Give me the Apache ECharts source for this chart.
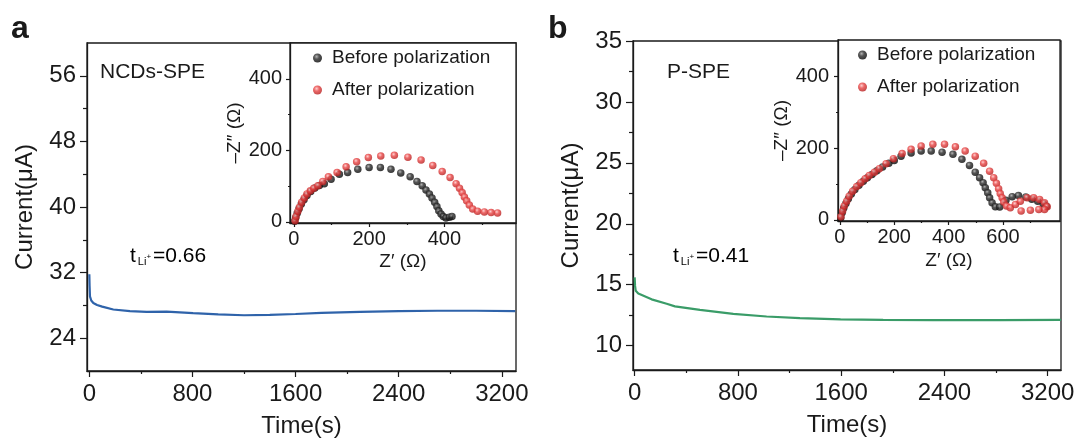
<!DOCTYPE html>
<html>
<head>
<meta charset="utf-8">
<script src="https://cdn.jsdelivr.net/npm/echarts@6/dist/echarts.min.js"></script>
<style>
html, body { margin: 0; background: #fff; }
#chart { width: 1080px; height: 443px; }
</style>
</head>
<body>
<div id="chart"></div>
<script>
// ---- data ----
// panel a: NCDs-SPE chronoamperometry
const timeA = [0, 2, 5, 15, 31, 60, 100, 186, 315, 445, 600, 805, 1000, 1200, 1400, 1600, 1800, 2100, 2400, 2700, 3000, 3304];
const currA = [31.8, 30.4, 29.1, 28.6, 28.3, 28.05, 27.85, 27.5, 27.3, 27.2, 27.25, 27.05, 26.9, 26.8, 26.85, 26.95, 27.1, 27.2, 27.3, 27.35, 27.35, 27.3];
// panel b: P-SPE chronoamperometry
const timeB = [0, 3, 8, 28, 131, 248, 312, 506, 764, 1022, 1280, 1595, 1925, 2312, 2828, 3303];
const currB = [15.6, 14.9, 14.5, 14.27, 13.8, 13.44, 13.22, 12.94, 12.61, 12.39, 12.25, 12.15, 12.12, 12.09, 12.09, 12.12];

// insets: Nyquist plots (Z', -Z'')
const aBeforeX = [2, 5, 9, 14, 20, 27, 35, 45, 56, 68, 81, 99, 121, 143, 170, 200, 230, 258, 284, 309, 327, 341, 351, 360, 367, 374, 380, 385, 391, 397, 404, 413, 420];
const aBeforeY = [2, 12, 24, 37, 50, 62, 74, 85, 95, 102, 107, 119, 133, 138, 147, 152, 152, 147, 137, 126, 113, 101, 89, 78, 67, 55, 43, 31, 22, 15, 11, 13, 15];
const aAfterX = [3.5, 6, 11, 15, 21, 28, 35, 44, 53, 64, 77, 92, 115, 139, 167, 198, 231, 267, 303, 338, 369, 394, 415, 431, 440, 447, 453, 459, 466, 475, 488, 506, 524, 541];
const aAfterY = [3.6, 15, 30, 41, 55, 67, 78, 87, 94, 101, 113, 126, 138, 154, 168, 180, 184, 186, 181, 173, 158, 141, 124, 107, 94, 82, 70, 59, 47, 36, 30, 28, 26, 25];
const bBeforeX = [3, 8, 14, 22, 31, 42, 55, 70, 86, 101, 118, 136, 157, 180, 200, 225, 262, 299, 336, 376, 416, 449, 477, 498, 514, 527, 535, 544, 551, 560, 572, 588, 611, 634, 657, 684, 706, 728, 748, 760];
const bBeforeY = [6, 20, 33, 46, 59, 72, 85, 97, 108, 118, 127, 137, 148, 158, 166, 178, 187, 192, 192, 189, 183, 169, 152, 133, 118, 104, 90, 76, 62, 48, 37, 36, 55, 65, 68, 64, 58, 52, 45, 38];
const bAfterX = [3.7, 10, 16, 25, 34, 47, 62, 77, 93, 108, 127, 145, 170, 197, 229, 262, 299, 342, 385, 425, 461, 498, 529, 551, 566, 576, 584, 590, 597, 603, 613, 627, 646, 664, 689, 713, 735, 753, 763, 753, 732, 701, 667];
const bAfterY = [9, 25, 39, 52, 66, 80, 93, 104, 115, 124, 133, 143, 157, 171, 185, 197, 206, 211, 211, 204, 192, 178, 158, 136, 118, 102, 87, 74, 62, 50, 39, 34, 43, 52, 62, 62, 57, 48, 37, 29, 29, 27, 25];

// tick values
const timeTicks = [0, 800, 1600, 2400, 3200];
const timeMinor = [400, 1200, 2000, 2800];
const curTicksA = [24, 32, 40, 48, 56];
const curMinorA = [28, 36, 44, 52];
const curTicksB = [10, 15, 20, 25, 30, 35];
const curMinorB = [12.5, 17.5, 22.5, 27.5, 32.5];
const zReTicksA = [0, 200, 400];
const zReTicksB = [0, 200, 400, 600];
const zReMinor = [100, 300, 500, 700];
const zImTicks = [0, 200, 400];
const zImMinor = [100, 300];

const FONT = '"Liberation Sans", Arial, sans-serif';
const INK = '#1a1a1a';

function zip(xs, ys) {
    return xs.map((x, i) => [x, ys[i]]);
}

// a labelled axis plus a second one on the same side that only carries the minor ticks
function axisPair(dim, gridIndex, range, major, minor, name, s) {
    const base = {
        type: 'value',
        gridIndex: gridIndex,
        min: range[0],
        max: range[1],
        position: dim === 'x' ? 'bottom' : 'left',
        splitLine: { show: false }
    };
    return [
        Object.assign({}, base, {
            name: name,
            nameLocation: 'middle',
            nameGap: s.nameGap,
            nameTextStyle: { fontFamily: FONT, fontSize: s.nameSize, color: INK },
            axisLine: { onZero: false, lineStyle: { color: INK, width: 1.3 } },
            axisTick: { customValues: major, length: s.tick, lineStyle: { color: INK, width: 1.2 } },
            axisLabel: {
                customValues: major,
                fontFamily: FONT,
                fontSize: s.label,
                color: INK,
                margin: s.margin,
                formatter: v => String(v)
            }
        }),
        Object.assign({}, base, {
            axisLine: { show: false, onZero: false },
            axisTick: { customValues: minor, length: Math.round(s.tick / 2), lineStyle: { color: INK, width: 1.2 } },
            axisLabel: { show: false }
        })
    ];
}

const mainX = { nameGap: 43, nameSize: 24, tick: 6, label: 24, margin: 11 };
const mainY = { nameGap: 50, nameSize: 24, tick: 7, label: 24, margin: 11 };
const insetX = { nameGap: 29, nameSize: 19, tick: 4, label: 20, margin: 6 };

const redDot = {
    type: 'radial', x: 0.4, y: 0.35, r: 0.7,
    colorStops: [{ offset: 0, color: '#ffc4c4' }, { offset: 0.4, color: '#e84444' }, { offset: 1, color: '#b01818' }]
};
const blackDot = {
    type: 'radial', x: 0.4, y: 0.35, r: 0.7,
    colorStops: [{ offset: 0, color: '#a0a0a0' }, { offset: 0.4, color: '#2a2a2a' }, { offset: 1, color: '#000' }]
};

function dots(name, data, color, g) {
    return {
        name: name,
        type: 'scatter',
        xAxisIndex: 2 * g,
        yAxisIndex: 2 * g,
        symbolSize: 7.5,
        itemStyle: { color: color },
        data: data
    };
}

function curve(data, color, g) {
    return {
        type: 'line',
        xAxisIndex: 2 * g,
        yAxisIndex: 2 * g,
        showSymbol: false,
        lineStyle: { color: color, width: 2.2 },
        data: data
    };
}

function legend(left, top) {
    return {
        data: ['Before polarization', 'After polarization'],
        orient: 'vertical',
        left: left,
        top: top,
        padding: 0,
        itemGap: 12,
        itemWidth: 9,
        itemHeight: 9,
        icon: 'circle',
        textStyle: { fontFamily: FONT, fontSize: 19, color: INK, lineHeight: 20, padding: [0, 0, 0, 5] }
    };
}

function tLabel(x, value) {
    return {
        type: 'text',
        left: x,
        top: 246,
        style: {
            text: '{m|t}{s|Li}{p|+}{m|=' + value + '}',
            rich: {
                m: { fontFamily: FONT, fontSize: 21, color: INK },
                s: { fontFamily: FONT, fontSize: 11, color: INK, verticalAlign: 'bottom', padding: [0, 0, 0, 2] },
                p: { fontFamily: FONT, fontSize: 8, color: INK, verticalAlign: 'bottom', padding: [0, 2, 6, 0] }
            }
        }
    };
}

function note(x, y, text, size, bold) {
    return {
        type: 'text',
        x: x,
        y: y,
        style: {
            text: text,
            fontFamily: FONT,
            fontSize: size,
            fontWeight: bold ? 'bold' : 'normal',
            fill: INK,
            verticalAlign: 'middle'
        }
    };
}

const gridBox = { show: true, borderColor: INK, borderWidth: 1.3 };

const option = {
    animation: false,
    backgroundColor: '#fff',
    grid: [
        Object.assign({ left: 87, top: 43, width: 429, height: 329, backgroundColor: 'transparent' }, gridBox),
        Object.assign({ left: 290, top: 43, width: 226, height: 180, backgroundColor: '#fff' }, gridBox),
        Object.assign({ left: 633, top: 41, width: 428, height: 329, backgroundColor: 'transparent' }, gridBox),
        Object.assign({ left: 838, top: 40, width: 222, height: 181, backgroundColor: '#fff' }, gridBox)
    ],
    xAxis: [].concat(
        axisPair('x', 0, [-18, 3310], timeTicks, timeMinor, 'Time(s)', mainX),
        axisPair('x', 1, [-10, 590], zReTicksA, zReMinor, 'Z′ (Ω)', insetX),
        axisPair('x', 2, [-13, 3303], timeTicks, timeMinor, 'Time(s)', mainX),
        axisPair('x', 3, [-7, 810], zReTicksB, zReMinor, 'Z′ (Ω)', Object.assign({}, insetX, { nameGap: 30 }))
    ),
    yAxis: [].concat(
        axisPair('y', 0, [20, 60], curTicksA, curMinorA, 'Current(μA)', mainY),
        axisPair('y', 1, [-3, 500], zImTicks, zImMinor, '–Z″ (Ω)', { nameGap: 45, nameSize: 19, tick: 4, label: 20, margin: 8 }),
        axisPair('y', 2, [8, 35], curTicksB, curMinorB, 'Current(μA)', mainY),
        axisPair('y', 3, [-3, 502], zImTicks, zImMinor, '–Z″ (Ω)', { nameGap: 46, nameSize: 19, tick: 4, label: 20, margin: 9 })
    ),
    legend: [legend(313, 48), legend(858, 45)],
    graphic: [
        note(11, 29, 'a', 32, true),
        note(548, 29, 'b', 32, true),
        note(100, 72, 'NCDs-SPE', 21),
        note(667, 72, 'P-SPE', 21),
        tLabel(130, '0.66'),
        tLabel(673, '0.41')
    ],
    series: [
        curve(zip(timeA, currA), '#2f63aa', 0),
        dots('Before polarization', zip(aBeforeX, aBeforeY), blackDot, 1),
        dots('After polarization', zip(aAfterX, aAfterY), redDot, 1),
        curve(zip(timeB, currB), '#3a9c68', 2),
        dots('Before polarization', zip(bBeforeX, bBeforeY), blackDot, 3),
        dots('After polarization', zip(bAfterX, bAfterY), redDot, 3)
    ]
};

const chart = echarts.init(document.getElementById('chart'));
chart.setOption(option);
</script>
</body>
</html>
